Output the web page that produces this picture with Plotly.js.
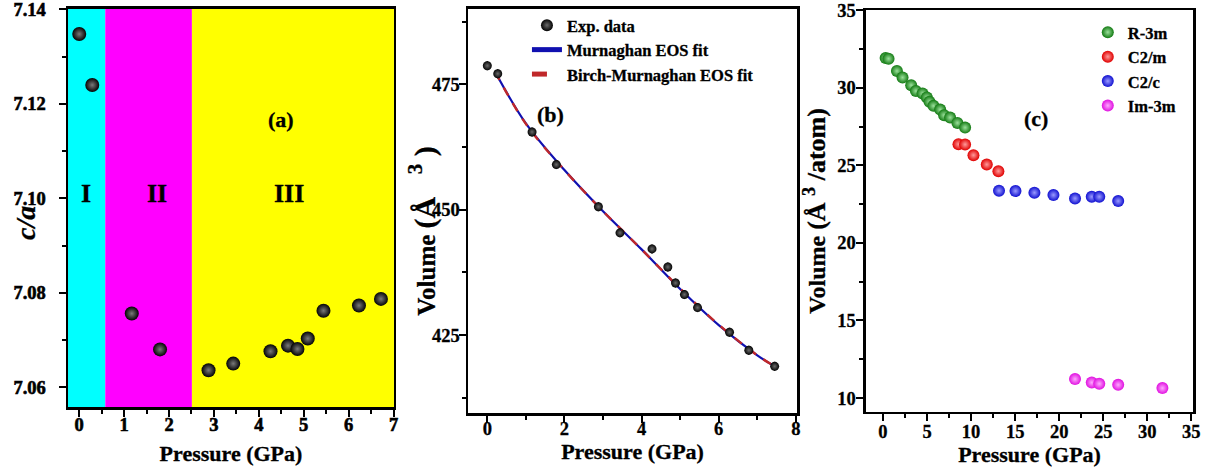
<!DOCTYPE html>
<html>
<head>
<meta charset="utf-8">
<script src="https://cdn.plot.ly/plotly-3.0.1.min.js"></script>
<style>
html,body{margin:0;padding:0;background:#fff;}
#chart{width:1210px;height:468px;}
#chart svg text{stroke:#000;stroke-width:0.3px;}
#chart .xtick text, #chart .ytick text{stroke:#000;stroke-width:0.6px;}
</style>
</head>
<body>
<div id="chart"></div>
<script>
// ---- Panel (a): c/a ratio vs pressure ----
const caPressure = [0.0, 0.29, 1.17, 1.80, 2.88, 3.43, 4.26, 4.65, 4.86, 5.09, 5.44, 6.23, 6.72];
const caRatio = [7.1348, 7.1240, 7.0756, 7.0680, 7.0636, 7.0650, 7.0676, 7.0688, 7.0681, 7.0703, 7.0762, 7.0773, 7.0787];
const phaseLabels = ['I', 'II', 'III'];
const phaseBounds = [-0.25, 0.58, 2.51, 7.01];
const caXTicks = [0, 1, 2, 3, 4, 5, 6, 7];
const caYTicks = [7.06, 7.08, 7.10, 7.12, 7.14];
const caYTickText = ['7.06', '7.08', '7.10', '7.12', '7.14'];

// ---- Panel (b): volume vs pressure with EOS fits ----
const volPressure = [0.0, 0.27, 1.16, 1.79, 2.88, 3.44, 4.27, 4.68, 4.88, 5.11, 5.45, 6.28, 6.78, 7.45];
const volExp = [478.7, 477.1, 465.5, 459.0, 450.6, 445.4, 442.2, 438.6, 435.4, 433.1, 430.5, 425.6, 422.0, 418.8];
const volErr = [0.9, 0.9, 0.9, 0.9, 0.9, 0.9, 0.9, 0.9, 0.9, 0.9, 0.9, 0.9, 0.9, 0.9];
const fitPressure = [0.2, 1, 2, 3, 4, 5, 6, 7, 7.45];
const murnaghanFit = [477.5, 467.2, 457.9, 449.7, 442.1, 434.2, 427.0, 421.0, 418.8];
const birchFit = [477.5, 467.1, 457.9, 449.7, 442.1, 434.3, 427.1, 421.0, 418.8];
const volXTicks = [0, 2, 4, 6, 8];
const volYTicks = [425, 450, 475];

// ---- Panel (c): volume per atom for the phases ----
const phaseNames = ['R-3m', 'C2/m', 'C2/c', 'Im-3m'];
const r3mP = [0.30, 0.63, 1.58, 2.22, 3.20, 3.74, 4.49, 4.98, 5.28, 5.73, 6.49, 6.94, 7.62, 8.45, 9.32];
const r3mV = [31.92, 31.88, 31.09, 30.67, 30.17, 29.80, 29.64, 29.38, 29.10, 28.84, 28.60, 28.24, 28.09, 27.74, 27.44];
const c2mP = [8.57, 9.32, 10.27, 11.78, 13.10];
const c2mV = [26.37, 26.35, 25.66, 25.06, 24.63];
const c2cP = [13.17, 15.04, 17.19, 19.35, 21.80, 23.70, 24.55, 26.70];
const c2cV = [23.37, 23.35, 23.24, 23.09, 22.87, 22.98, 22.98, 22.70];
const im3mP = [21.80, 23.70, 24.55, 26.70, 31.72];
const im3mV = [11.22, 11.00, 10.92, 10.85, 10.64];
const phXTicks = [0, 5, 10, 15, 20, 25, 30, 35];
const phYTicks = [10, 15, 20, 25, 30, 35];

const SERIF = 'Liberation Serif, Times New Roman, serif';
function font(size, extra) {
  return Object.assign({family: SERIF, size: size, color: '#000', weight: 'bold'}, extra || {});
}
function minor(dt) {
  return {ticks: 'outside', ticklen: 4, tickwidth: 2, tickcolor: '#000', dtick: dt, showgrid: false};
}
function boldTicks(vals, texts) {
  return {tickmode: 'array', tickvals: vals, ticktext: (texts || vals.map(String)).map(t => '<b>' + t + '</b>')};
}
function axis(o) {
  return Object.assign({
    showline: true, linecolor: '#000', linewidth: 2.5, mirror: true,
    ticks: 'outside', ticklen: 7, tickwidth: 2, tickcolor: '#000',
    showgrid: false, zeroline: false, tickfont: font(18.5),
    ticklabeloverflow: 'allow'
  }, o);
}

function sphere(color, center, size) {
  return {color: color, size: size, line: {width: 0}, gradient: {type: 'radial', color: center}};
}

const traces = [
  {x: caPressure, y: caRatio, xaxis: 'x', yaxis: 'y', mode: 'markers', type: 'scatter',
   marker: sphere('#030303', '#7a7a7a', 14), showlegend: false, name: 'c/a'},
  {x: fitPressure, y: murnaghanFit, xaxis: 'x2', yaxis: 'y2', mode: 'lines', type: 'scatter',
   line: {color: '#1010b0', width: 2.2, shape: 'spline'}, name: 'Murnaghan EOS fit', legend: 'legend', legendrank: 2},
  {x: fitPressure, y: birchFit, xaxis: 'x2', yaxis: 'y2', mode: 'lines', type: 'scatter',
   line: {color: '#c0282a', width: 2.4, dash: 'dash', shape: 'spline'}, name: 'Birch-Murnaghan EOS fit', legend: 'legend', legendrank: 3},
  {x: volPressure, y: volExp, xaxis: 'x2', yaxis: 'y2', mode: 'markers', type: 'scatter',
   error_y: {type: 'data', array: volErr, visible: true, color: '#000', thickness: 1.5, width: 0},
   marker: sphere('#030303', '#6a6a6a', 9), name: 'Exp. data', legend: 'legend', legendrank: 1},
  {x: r3mP, y: r3mV, xaxis: 'x3', yaxis: 'y3', mode: 'markers', type: 'scatter',
   marker: sphere('#127a12', '#9be09b', 12), name: phaseNames[0], legend: 'legend2'},
  {x: c2mP, y: c2mV, xaxis: 'x3', yaxis: 'y3', mode: 'markers', type: 'scatter',
   marker: sphere('#e00000', '#ff9a9a', 12), name: phaseNames[1], legend: 'legend2'},
  {x: c2cP, y: c2cV, xaxis: 'x3', yaxis: 'y3', mode: 'markers', type: 'scatter',
   marker: sphere('#1010d0', '#9a9aff', 12), name: phaseNames[2], legend: 'legend2'},
  {x: im3mP, y: im3mV, xaxis: 'x3', yaxis: 'y3', mode: 'markers', type: 'scatter',
   marker: sphere('#e010e0', '#ffa8ff', 12), name: phaseNames[3], legend: 'legend2'}
];

const phaseFill = ['#00ffff', '#ff00ff', '#ffff00'];
const shapes = phaseLabels.map((p, i) => ({
  type: 'rect', xref: 'x', yref: 'y domain', x0: phaseBounds[i], x1: phaseBounds[i + 1], y0: 0, y1: 1,
  fillcolor: phaseFill[i], line: {width: 0}, layer: 'below'
}));

const NB = '\u00A0';
const phaseLabelX = [0.15, 1.74, 4.68];
const annotations = phaseLabels.map((p, i) => ({
  text: p, x: phaseLabelX[i], y: 7.101, xref: 'x', yref: 'y', showarrow: false, font: font(26)
})).concat([
  {text: '(a)', x: 4.5, y: 7.1166, xref: 'x', yref: 'y', showarrow: false, font: font(22)},
  {text: '(b)', x: 1.65, y: 468.9, xref: 'x2', yref: 'y2', showarrow: false, font: font(22)},
  {text: '(c)', x: 17.4, y: 28.05, xref: 'x3', yref: 'y3', showarrow: false, font: font(22)},
  // y-axis titles
  {text: '<i>c/a</i>', x: 0.006, y: 0.523, xref: 'paper', yref: 'paper', textangle: -90,
   showarrow: false, font: font(28)},
  {text: 'Volume <span style="font-size:30px">(Å' + NB + NB + NB + '<sup>3</sup>' + NB + ')</span>',
   x: 0.3496, y: 0.505, xref: 'paper', yref: 'paper', textangle: -90, showarrow: false, font: font(25)},
  {text: 'Volume <span style="font-size:26px">(Å' + NB + '<sup>3</sup>' + NB + '/atom)</span>',
   x: 0.6885, y: 0.549, xref: 'paper', yref: 'paper', textangle: -90, showarrow: false, font: font(24)}
]);

const layout = {
  width: 1210, height: 468, margin: {l: 0, r: 0, t: 0, b: 0},
  paper_bgcolor: '#fff', plot_bgcolor: '#fff',
  xaxis: axis(Object.assign(boldTicks(caXTicks), {domain: [0.0562, 0.3256], anchor: 'y', range: [-0.25, 7.01],
    minor: minor(0.5), ticklabelstandoff: -8,
    title: {text: 'Pressure (GPa)', font: font(22), standoff: 12}})),
  yaxis: axis(Object.assign(boldTicks(caYTicks, caYTickText), {domain: [0.1303, 0.9808], anchor: 'x',
    range: [7.0558, 7.1401], ticklabelstandoff: 9, minor: minor(0.01)})),
  xaxis2: axis(Object.assign(boldTicks(volXTicks), {domain: [0.3868, 0.6587], anchor: 'y2', range: [-0.5, 8.03],
    minor: minor(1), ticklabelstandoff: -10,
    title: {text: 'Pressure (GPa)', font: font(22), standoff: 3}})),
  yaxis2: axis(Object.assign(boldTicks(volYTicks), {domain: [0.1175, 0.9808], anchor: 'x2', range: [409.5, 490],
    minor: minor(12.5), ticklabelstandoff: -5})),
  xaxis3: axis(Object.assign(boldTicks(phXTicks), {domain: [0.7157, 0.9860], anchor: 'y3', range: [-1.93, 35.2],
    minor: minor(2.5), ticklabelstandoff: -6,
    title: {text: 'Pressure (GPa)', font: font(22), standoff: 1}})),
  yaxis3: axis(Object.assign(boldTicks(phYTicks), {domain: [0.1197, 0.9786], anchor: 'x3', range: [9.1, 35.02],
    minor: minor(2.5), ticklabelstandoff: -3})),
  legend: {x: 0.4355, y: 0.983, xanchor: 'left', yanchor: 'top', bgcolor: 'rgba(0,0,0,0)',
    font: font(16.5), tracegroupgap: 0, itemsizing: 'constant', traceorder: 'normal'},
  legend2: {x: 0.899, y: 0.968, xanchor: 'left', yanchor: 'top', bgcolor: 'rgba(0,0,0,0)',
    font: font(16.5), itemsizing: 'constant'},
  shapes: shapes,
  annotations: annotations
};

Plotly.newPlot('chart', traces, layout, {displayModeBar: false, staticPlot: true});
</script>
</body>
</html>
